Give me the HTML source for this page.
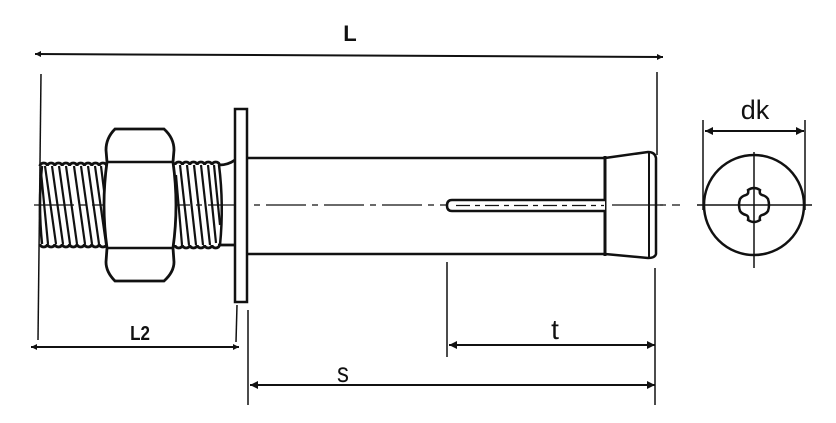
<!DOCTYPE html>
<html><head><meta charset="utf-8"><style>
html,body{margin:0;padding:0;background:#fff;}
svg{display:block;}
text{font-family:"Liberation Sans",sans-serif;fill:#111;}
</style></head><body>
<svg width="836" height="423" viewBox="0 0 836 423" xmlns="http://www.w3.org/2000/svg">
<defs>
<marker id="a" viewBox="0 0 10 10" refX="10" refY="5" markerWidth="16" markerHeight="8" orient="auto-start-reverse" markerUnits="userSpaceOnUse"><path d="M0,0 L10,5 L0,10 z" fill="#111"/></marker>
<marker id="s" viewBox="0 0 10 10" refX="10" refY="5" markerWidth="8" markerHeight="6" orient="auto-start-reverse" markerUnits="userSpaceOnUse"><path d="M0,0 L10,5 L0,10 z" fill="#111"/></marker>
</defs>
<g stroke="#111" fill="none">
<line x1="35" y1="54" x2="663" y2="57" stroke-width="2" marker-start="url(#s)" marker-end="url(#s)"/>
<line x1="41" y1="74" x2="38" y2="340" stroke-width="1.5"/>
<line x1="657" y1="72" x2="657" y2="155" stroke-width="1.5"/>
<line x1="31" y1="347" x2="239" y2="347" stroke-width="2" marker-start="url(#s)" marker-end="url(#s)"/>
<line x1="237" y1="305" x2="236" y2="342" stroke-width="1.5"/>
<line x1="248" y1="310" x2="248" y2="405" stroke-width="1.5"/>
<line x1="655" y1="268" x2="655" y2="405" stroke-width="1.5"/>
<line x1="447" y1="262" x2="447" y2="357" stroke-width="1.5"/>
<line x1="449" y1="345" x2="655" y2="345" stroke-width="2" marker-start="url(#a)" marker-end="url(#a)"/>
<line x1="250" y1="385" x2="655" y2="385" stroke-width="2" marker-start="url(#a)" marker-end="url(#a)"/>
<line x1="703" y1="120" x2="703" y2="210" stroke-width="1.5"/>
<line x1="805" y1="120" x2="805" y2="210" stroke-width="1.5"/>
<line x1="705" y1="131" x2="804" y2="131" stroke-width="2" marker-start="url(#a)" marker-end="url(#a)"/>

<line x1="34" y1="205" x2="680" y2="205" stroke-width="1.3" stroke-dasharray="40,6,6,6"/>

<path d="M40,166 a3.7,3 0 0 1 7.4,0 a3.7,3 0 0 1 7.4,0 a3.7,3 0 0 1 7.4,0 a3.7,3 0 0 1 7.4,0 a3.7,3 0 0 1 7.4,0 a3.7,3 0 0 1 7.4,0 a3.7,3 0 0 1 7.4,0 a3.7,3 0 0 1 7.4,0 a3.7,3 0 0 1 7.4,0" stroke-width="2.8"/>
<path d="M40,244 a3.7,3 0 0 0 7.4,0 a3.7,3 0 0 0 7.4,0 a3.7,3 0 0 0 7.4,0 a3.7,3 0 0 0 7.4,0 a3.7,3 0 0 0 7.4,0 a3.7,3 0 0 0 7.4,0 a3.7,3 0 0 0 7.4,0 a3.7,3 0 0 0 7.4,0 a3.7,3 0 0 0 7.4,0" stroke-width="2.8"/>
<path d="M42,166 Q38,205 42,244" stroke-width="2.5"/>
<g stroke-width="2.2">
<line x1="41" y1="172" x2="48" y2="244"/><line x1="45" y1="166" x2="56" y2="244"/><line x1="52" y1="166" x2="63" y2="244"/><line x1="59" y1="166" x2="70" y2="244"/><line x1="66" y1="166" x2="77" y2="244"/><line x1="74" y1="166" x2="85" y2="244"/><line x1="81" y1="166" x2="92" y2="244"/><line x1="88" y1="166" x2="99" y2="244"/><line x1="95" y1="166" x2="106" y2="244"/><line x1="101" y1="166" x2="107" y2="215"/>
</g>
<path d="M175,165 a3.7,3 0 0 1 7.4,0 a3.7,3 0 0 1 7.4,0 a3.7,3 0 0 1 7.4,0 a3.7,3 0 0 1 7.4,0 a3.7,3 0 0 1 7.4,0 a3.7,3 0 0 1 7.4,0 Q228,165 235,160" stroke-width="2.8"/>
<path d="M175,245 a3.7,3 0 0 0 7.4,0 a3.7,3 0 0 0 7.4,0 a3.7,3 0 0 0 7.4,0 a3.7,3 0 0 0 7.4,0 a3.7,3 0 0 0 7.4,0 a3.7,3 0 0 0 7.4,0 L235,245" stroke-width="2.8"/>
<path d="M219,165 Q224,205 220,245" stroke-width="2.5"/>
<g stroke-width="2.2">
<line x1="176" y1="175" x2="182" y2="245"/><line x1="180" y1="165" x2="189" y2="245"/><line x1="187" y1="165" x2="196" y2="245"/><line x1="194" y1="165" x2="203" y2="245"/><line x1="201" y1="165" x2="210" y2="245"/><line x1="208" y1="165" x2="216" y2="243"/><line x1="214" y1="165" x2="220" y2="225"/>
</g>

<path d="M115,129 L164,129 Q174,138 174,150 L173,162 Q179,205 173,248 L174,262 Q174,272 164,281 L115,281 Q106,272 106,262 L107,248 Q101,205 107,162 L106,150 Q106,138 115,129 Z" fill="#fff" stroke-width="2.8"/>
<line x1="107" y1="162" x2="173" y2="162" stroke-width="2.5"/>
<line x1="107" y1="248" x2="173" y2="248" stroke-width="2.5"/>

<rect x="235" y="109" width="12" height="193" fill="#fff" stroke-width="2.5"/>

<path d="M247,158 L605,158 L605,254 L247,254" stroke-width="2.5"/>
<path d="M605,158 L648,152 Q655,152 656,158 L656,254 Q655,258 648,258 L605,254" stroke-width="2.5" fill="#fff"/>
<line x1="649" y1="153" x2="649" y2="257" stroke-width="2"/>
<line x1="605" y1="156" x2="605" y2="256" stroke-width="3"/>
<path d="M605,200 L452,200 Q447,200 447,205.5 Q447,211 452,211 L605,211" stroke-width="2.5" fill="#fff"/>
<line x1="456" y1="205.5" x2="604" y2="205.5" stroke-width="1.3" stroke-dasharray="14,5,5,5"/>
<line x1="612" y1="205" x2="663" y2="205" stroke-width="1.3"/>

<circle cx="754" cy="205" r="50" stroke-width="2.5"/>
<line x1="697" y1="205" x2="812" y2="205" stroke-width="1.5"/>
<line x1="754" y1="152" x2="754" y2="268" stroke-width="1.5"/>
<path d="M748,190 Q754,186 760,190 Q759,194 762,195 Q766,196 768,199 Q770,205 768,211 Q766,214 762,215 Q759,216 760,220 Q754,224 748,220 Q749,216 746,215 Q742,214 740,211 Q738,205 740,199 Q742,196 746,195 Q749,194 748,190 Z" stroke-width="2.5"/>
</g>
<text x="350" y="41" font-size="22" font-weight="bold" text-anchor="middle">L</text>
<text x="140" y="340" font-size="20" font-weight="bold" text-anchor="middle" transform="translate(140 0) scale(0.85 1) translate(-140 0)">L2</text>
<text x="343" y="382" font-size="28" text-anchor="middle" transform="translate(343 0) scale(0.85 1) translate(-343 0)">s</text>
<text x="555" y="339" font-size="28" text-anchor="middle">t</text>
<text x="755" y="119" font-size="27" text-anchor="middle">dk</text>
</svg>
</body></html>
